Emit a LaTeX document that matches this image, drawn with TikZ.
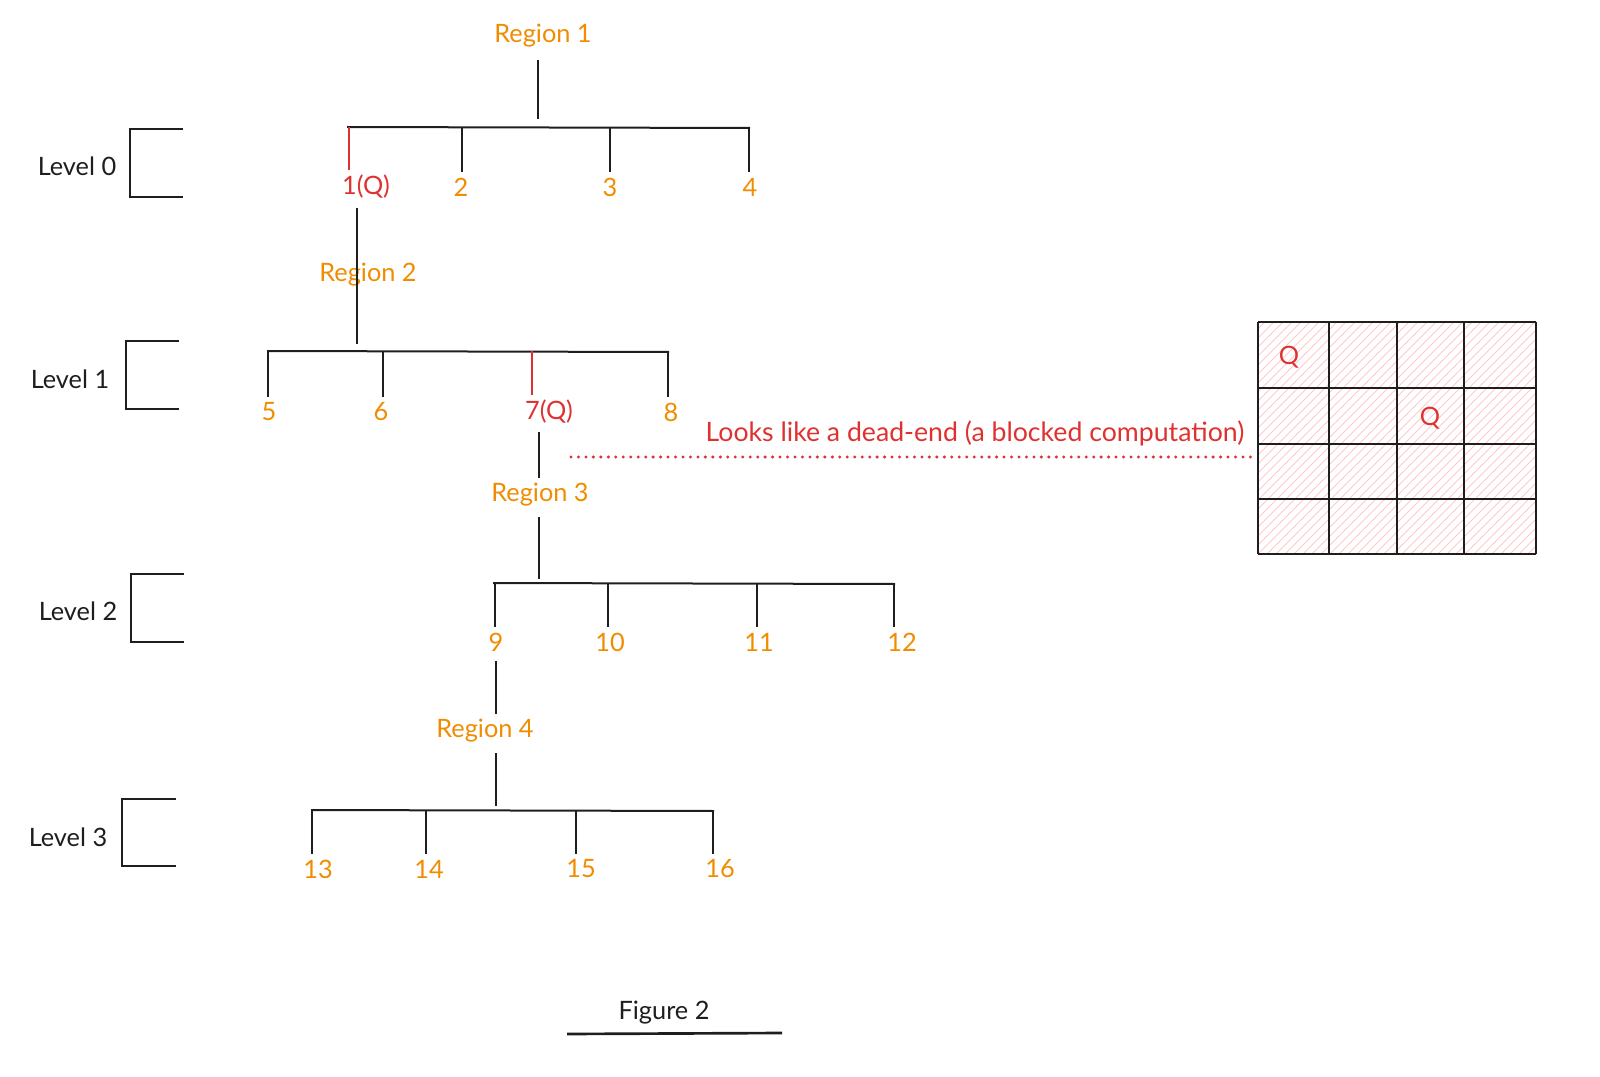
\documentclass[tikz,border=0pt]{standalone}
\usepackage{fontspec}
\setmainfont{Lato}
\definecolor{ink}{HTML}{1E1E1E}
\definecolor{orng}{HTML}{F08C00}
\definecolor{rd}{HTML}{E03131}
\definecolor{hatchc}{HTML}{FFC9C9}
\begin{document}
\begin{tikzpicture}[x=0.75pt,y=-0.75pt,
  txt/.style={font=\fontsize{19}{22}\selectfont, inner sep=4pt},
  lbl/.style={txt, text=orng},
  qlbl/.style={txt, text=rd},
  lvl/.style={txt, text=ink},
  edge/.style={draw=ink, line width=1.2pt},
  redge/.style={draw=rd, line width=1.2pt},
  bar/.style={draw=ink, line width=1.5pt},
  bracket/.style={draw=ink, line width=2pt},
  gridline/.style={draw=ink, line width=1.5pt},
  hatch/.style={draw=hatchc, line width=0.7pt},
  dots/.style={draw=rd, line width=2.5pt, line cap=round, dash pattern=on 0pt off 5.6pt}]
\useasboundingbox (0,0) rectangle (1600,1077);

% ---------- level brackets ----------
\node[lvl] (L0) at (77,166) {Level 0};
\draw[bracket] (183,129) -- (130,129) -- (130,197) -- (183,197);
\node[lvl] (L1) at (70,379) {Level 1};
\draw[bracket] (179,341) -- (126,341) -- (126,409) -- (179,409);
\node[lvl] (L2) at (78,611) {Level 2};
\draw[bracket] (184,574) -- (131,574) -- (131,642) -- (184,642);
\node[lvl] (L3) at (68,837) {Level 3};
\draw[bracket] (176,799) -- (122,799) -- (122,866) -- (176,866);

% ---------- level 0 ----------
\node[lbl] (R1) at (543,36) {Region 1};
\coordinate (b1L) at (347,127);
\coordinate (b1R) at (750,128);
\coordinate (b1T) at (538,127);
\draw[bar] (b1L) -- (b1R);
\draw[edge, shorten <=5pt, shorten >=6pt] (b1T |- R1.south) -- (b1T);
\node[qlbl] (n1) at (366,187) {1(Q)};
\node[lbl]  (n2) at (461,187) {2};
\node[lbl]  (n3) at (610,187) {3};
\node[lbl]  (n4) at (750,187) {4};
\coordinate (t1) at (349,127);
\coordinate (t2) at (462,127);
\coordinate (t3) at (610,127);
\coordinate (t4) at (749,127);
\draw[redge] (t1) -- (t1 |- n1.north);
\draw[edge] (t2) -- (t2 |- n2.north);
\draw[edge] (t3) -- (t3 |- n3.north);
\draw[edge] (t4) -- (t4 |- n4.north);

% ---------- level 1 ----------
\node[lbl] (R2) at (368,275) {Region 2};
\coordinate (b2L) at (267,351);
\coordinate (b2R) at (669,352);
\coordinate (b2T) at (357,351);
\draw[bar] (b2L) -- (b2R);
\draw[edge, shorten <=3pt, shorten >=5pt] (b2T |- n1.south) -- (b2T);
\node[lbl]  (n5) at (269,412) {5};
\node[lbl]  (n6) at (381,412) {6};
\node[qlbl] (n7) at (549,412) {7(Q)};
\node[lbl]  (n8) at (671,412) {8};
\coordinate (t5) at (268,351);
\coordinate (t6) at (383,351);
\coordinate (t7) at (532,351);
\coordinate (t8) at (668,351);
\draw[edge] (t5) -- (t5 |- n5.north);
\draw[edge] (t6) -- (t6 |- n6.north);
\draw[redge] (t7) -- (t7 |- n7.north);
\draw[edge] (t8) -- (t8 |- n8.north);

% ---------- level 2 ----------
\node[lbl] (R3) at (540,495) {Region 3};
\coordinate (b3L) at (493,583);
\coordinate (b3R) at (895,584);
\coordinate (b3T) at (539,583);
\draw[bar] (b3L) -- (b3R);
\draw[edge, shorten <=2pt] (b3T |- n7.south) -- (b3T |- R3.north);
\draw[edge, shorten <=4pt, shorten >=3pt] (b3T |- R3.south) -- (b3T);
\node[lbl] (n9)  at (496,642) {9};
\node[lbl] (n10) at (610,642) {10};
\node[lbl] (n11) at (759,642) {11};
\node[lbl] (n12) at (902,642) {12};
\coordinate (t9)  at (495,583);
\coordinate (t10) at (608,583);
\coordinate (t11) at (757,583);
\coordinate (t12) at (894,583);
\draw[edge] (t9) -- (t9 |- n9.north);
\draw[edge] (t10) -- (t10 |- n10.north);
\draw[edge] (t11) -- (t11 |- n11.north);
\draw[edge] (t12) -- (t12 |- n12.north);

% ---------- level 3 ----------
\node[lbl] (R4) at (485,731) {Region 4};
\coordinate (b4L) at (311,810);
\coordinate (b4R) at (714,811);
\coordinate (b4T) at (496,810);
\draw[bar] (b4L) -- (b4R);
\draw[edge, shorten <=3pt] (b4T |- n9.south) -- (b4T |- R4.north);
\draw[edge, shorten <=4pt, shorten >=3pt] (b4T |- R4.south) -- (b4T);
\node[lbl] (n13) at (318,869) {13};
\node[lbl] (n14) at (429,869) {14};
\node[lbl] (n15) at (581,869) {15};
\node[lbl] (n16) at (720,869) {16};
\coordinate (t13) at (312,810);
\coordinate (t14) at (426,810);
\coordinate (t15) at (576,810);
\coordinate (t16) at (713,810);
\draw[edge] (t13) -- (t13 |- n13.north);
\draw[edge] (t14) -- (t14 |- n14.north);
\draw[edge] (t15) -- (t15 |- n15.north);
\draw[edge] (t16) -- (t16 |- n16.north);

% ---------- board ----------
\begin{scope}
  \clip (1258,322) rectangle (1536,554);
  \foreach \i in {0,9,...,540} {
    \draw[hatch] (1258-240+\i,560) -- (1258+\i,320);
  }
\end{scope}
\foreach \cx in {1258,1329,1397,1464,1536} {
  \draw[gridline] (\cx,322) -- (\cx,554);
}
\foreach \ry in {322,388,444,499,554} {
  \draw[gridline] (1258,\ry) -- (1536,\ry);
}
\node[qlbl] (q1) at (1289,357) {Q};
\node[qlbl] (q2) at (1430,418) {Q};

% ---------- annotation ----------
\node[qlbl, font=\fontsize{20}{23}\selectfont] (note) at (975,433) {Looks like a dead-end (a blocked computation)};
\coordinate (d0) at (571,457);
\coordinate (gridW) at (1256,457);
\draw[dots] (d0) -- (gridW);

% ---------- caption ----------
\node[lvl] (fig) at (664,1013) {Figure 2};
\coordinate (u0) at (567,1034);
\coordinate (u1) at (782,1033);
\draw[bracket] (u0) -- (u1);
\end{tikzpicture}
\end{document}
